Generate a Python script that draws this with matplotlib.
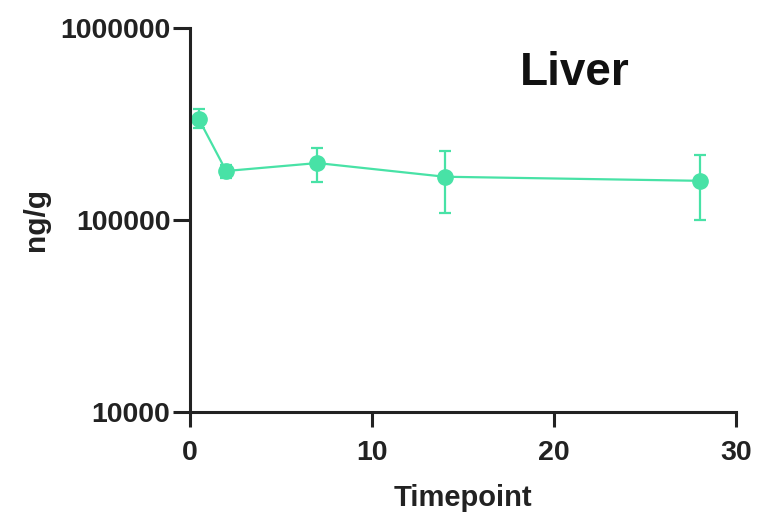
import matplotlib
matplotlib.use("Agg")
import matplotlib.pyplot as plt
from matplotlib.ticker import FixedLocator, NullLocator, FixedFormatter

# data
timepoints = [0.5, 2, 7, 14, 28]
conc_mean = [335000, 180000, 198000, 168000, 160000]
conc_upper = [378000, 193000, 236000, 228000, 218000]
conc_lower = [300000, 166000, 158000, 109000, 100000]

y_ticks = [10000, 100000, 1000000]
y_labels = ["10000", "100000", "1000000"]
x_ticks = [0, 10, 20, 30]

color = "#48E2A6"
plt.rcParams["font.family"] = ["Liberation Sans", "DejaVu Sans"]
plt.rcParams["font.weight"] = "bold"

fig = plt.figure(figsize=(7.59, 5.16), dpi=100)
ax = fig.add_axes([0.250, 0.2016, 0.720, 0.7441])

err_lo = [m - lo for m, lo in zip(conc_mean, conc_lower)]
err_hi = [hi - m for m, hi in zip(conc_mean, conc_upper)]
ax.errorbar(timepoints, conc_mean, yerr=[err_lo, err_hi], color=color,
            linewidth=1.6, elinewidth=1.6, capsize=4.5, capthick=1.6,
            marker="o", markersize=11, clip_on=False)

ax.set_yscale("log")
ax.set_ylim(10000, 1000000)
ax.set_xlim(0, 30)
ax.yaxis.set_major_locator(FixedLocator(y_ticks))
ax.yaxis.set_major_formatter(FixedFormatter(y_labels))
ax.yaxis.set_minor_locator(NullLocator())
ax.set_xticks(x_ticks)

for side in ("top", "right"):
    ax.spines[side].set_visible(False)
for side in ("left", "bottom"):
    ax.spines[side].set_linewidth(2.2)
    ax.spines[side].set_color("#222222")

ax.tick_params(axis="both", which="major", width=2.2, color="#222222",
               labelsize=20.5, labelcolor="#222222")
ax.tick_params(axis="y", length=12, pad=2)
ax.tick_params(axis="x", length=11, pad=9)

ax.set_xlabel("Timepoint", fontsize=21, fontweight="bold", color="#222222", labelpad=13)
ax.set_ylabel("ng/g", fontsize=21.5, fontweight="bold", color="#222222", labelpad=7)

ax.text(0.705, 0.852, "Liver", transform=ax.transAxes, fontsize=33,
        fontweight="bold", color="#111111", ha="center", va="baseline")

fig.savefig("out.png", dpi=100)
